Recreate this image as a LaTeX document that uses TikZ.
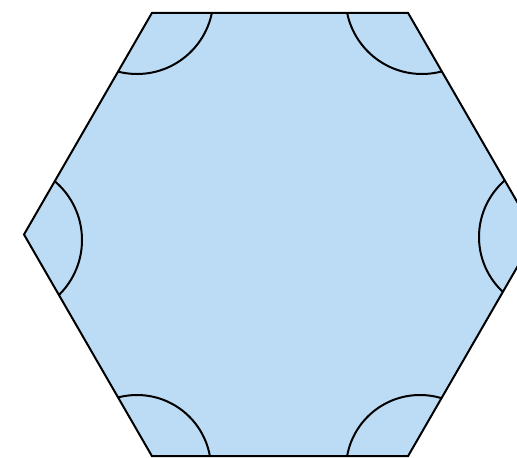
\documentclass[tikz,border=0pt]{standalone}
\definecolor{hexfill}{RGB}{188,220,245}
\tikzset{edgeline/.style={draw=black,line width=2pt,line join=miter},
         arcline/.style={draw=black,line width=2pt}}
\begin{document}
\begin{tikzpicture}[x=1pt,y=-1pt]
\clip (0,0) rectangle (517,458);
\coordinate (v0) at (536,234.5);
\coordinate (v1) at (408,12.8);
\coordinate (v2) at (152,12.8);
\coordinate (v3) at (24,234.5);
\coordinate (v4) at (152,456.2);
\coordinate (v5) at (408,456.2);
\coordinate (c0) at (554,237);
\coordinate (c1) at (422,-2.4);
\coordinate (c2) at (137,-2.4);
\coordinate (c3) at (5,240);
\coordinate (c4) at (137,469);
\coordinate (c5) at (420,469);
\fill[hexfill] (v0)--(v1)--(v2)--(v3)--(v4)--(v5)--cycle;
\begin{scope}
\clip (v0)--(v1)--(v2)--(v3)--(v4)--(v5)--cycle;
\draw[arcline] (c0) circle (75pt);
\draw[arcline] (c1) circle (76.4pt);
\draw[arcline] (c2) circle (76.4pt);
\draw[arcline] (c3) circle (77pt);
\draw[arcline] (c4) circle (74pt);
\draw[arcline] (c5) circle (74pt);
\end{scope}
\draw[edgeline] (v0)--(v1)--(v2)--(v3)--(v4)--(v5)--cycle;
\end{tikzpicture}
\end{document}
